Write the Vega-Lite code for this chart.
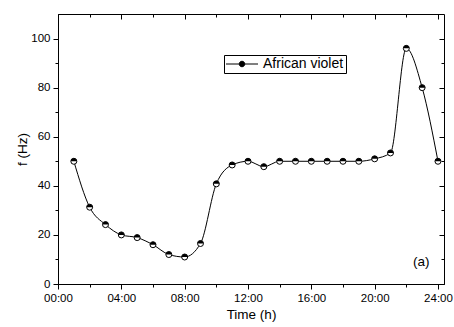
{
  "$schema": "https://vega.github.io/schema/vega-lite/v6.json",
  "width": 386,
  "height": 270,
  "autosize": "none",
  "padding": {"left": 58, "top": 14, "right": 10, "bottom": 43},
  "background": "white",
  "config": {
    "font": "Liberation Sans",
    "view": {"stroke": "black", "strokeWidth": 1},
    "axis": {"grid": false, "domainColor": "black", "tickColor": "black", "labelColor": "black", "titleColor": "black", "labelFont": "Liberation Sans", "titleFont": "Liberation Sans", "labelFontSize": 11.5, "titleFontSize": 13.5, "titleFontWeight": "normal", "domainWidth": 1, "tickWidth": 1, "labelFlush": false}
  },
  "resolve": {"axis": {"x": "independent", "y": "independent"}},
  "datasets": {
    "main": [
      {"t": 1, "f": 50}, {"t": 2, "f": 31.3}, {"t": 3, "f": 24.2}, {"t": 4, "f": 20},
      {"t": 5, "f": 18.9}, {"t": 6, "f": 16}, {"t": 7, "f": 12}, {"t": 8, "f": 11},
      {"t": 9, "f": 16.5}, {"t": 10, "f": 40.8}, {"t": 11, "f": 48.5}, {"t": 12, "f": 50},
      {"t": 13, "f": 47.8}, {"t": 14, "f": 50}, {"t": 15, "f": 50}, {"t": 16, "f": 50},
      {"t": 17, "f": 50}, {"t": 18, "f": 50}, {"t": 19, "f": 50}, {"t": 20, "f": 51},
      {"t": 21, "f": 53.4}, {"t": 22, "f": 96}, {"t": 23, "f": 80}, {"t": 24, "f": 50}
    ],
    "note": [{"t": 22.95, "f": 8.8, "label": "(a)"}]
  },
  "layer": [
    {
      "data": {"name": "main"},
      "mark": {"type": "line", "interpolate": "monotone", "color": "black", "strokeWidth": 1},
      "encoding": {
        "x": {"field": "t", "type": "quantitative", "scale": {"domain": [0, 24.38], "nice": false, "zero": false},
          "axis": {"orient": "bottom", "values": [0, 4, 8, 12, 16, 20, 24], "labelExpr": "(datum.value < 10 ? '0' : '') + datum.value + ':00'", "title": "Time (h)", "tickSize": 5, "labelPadding": 3, "titlePadding": 4}},
        "y": {"field": "f", "type": "quantitative", "scale": {"domain": [0, 110], "nice": false},
          "axis": {"orient": "left", "values": [0, 20, 40, 60, 80, 100], "title": "f (Hz)", "tickSize": 5, "labelPadding": 3, "titlePadding": 1}}
      }
    },
    {
      "data": {"name": "main"},
      "mark": {"type": "point", "shape": "circle", "filled": true, "fill": "white", "stroke": "black", "strokeWidth": 1, "size": 36, "opacity": 1},
      "encoding": {
        "x": {"field": "t", "type": "quantitative",
          "axis": {"orient": "bottom", "values": [2, 6, 10, 14, 18, 22], "labels": false, "domain": false, "tickSize": 3, "title": null}},
        "y": {"field": "f", "type": "quantitative",
          "axis": {"orient": "left", "values": [10, 30, 50, 70, 90], "labels": false, "domain": false, "tickSize": 3, "title": null}}
      }
    },
    {
      "data": {"name": "main"},
      "mark": {"type": "point", "shape": "M-1,0A1,1 0 0,1 1,0Z", "filled": true, "size": 36, "opacity": 1, "strokeWidth": 0},
      "encoding": {
        "x": {"field": "t", "type": "quantitative",
          "axis": {"orient": "top", "values": [0, 4, 8, 12, 16, 20, 24], "labels": false, "domain": false, "tickSize": -5, "title": null}},
        "y": {"field": "f", "type": "quantitative",
          "axis": {"orient": "right", "values": [0, 20, 40, 60, 80, 100], "labels": false, "domain": false, "tickSize": -5, "title": null}},
        "color": {"datum": "African violet", "type": "nominal", "scale": {"range": ["black"]},
          "legend": {"orient": "none", "legendX": 166, "legendY": 41, "title": null, "strokeColor": "black", "fillColor": "white", "padding": 2,
            "symbolType": "M-3.2,0H-0.55M0.55,0H3.2M-0.55,0A0.55,0.55 0 1,1 0.55,0A0.55,0.55 0 1,1 -0.55,0Z",
            "symbolSize": 100, "symbolStrokeWidth": 1, "symbolStrokeColor": "black", "symbolFillColor": "black", "symbolOffset": 9,
            "labelFontSize": 14, "labelFont": "Liberation Sans", "labelColor": "black", "labelOffset": 14}}
      }
    },
    {
      "data": {"name": "note"},
      "mark": {"type": "text", "fontSize": 13.5, "align": "center", "baseline": "middle", "color": "black", "font": "Liberation Sans"},
      "encoding": {
        "x": {"field": "t", "type": "quantitative",
          "axis": {"orient": "top", "values": [2, 6, 10, 14, 18, 22], "labels": false, "domain": false, "tickSize": -3, "title": null}},
        "y": {"field": "f", "type": "quantitative",
          "axis": {"orient": "right", "values": [10, 30, 50, 70, 90], "labels": false, "domain": false, "tickSize": -3, "title": null}},
        "text": {"field": "label"}
      }
    }
  ]
}
